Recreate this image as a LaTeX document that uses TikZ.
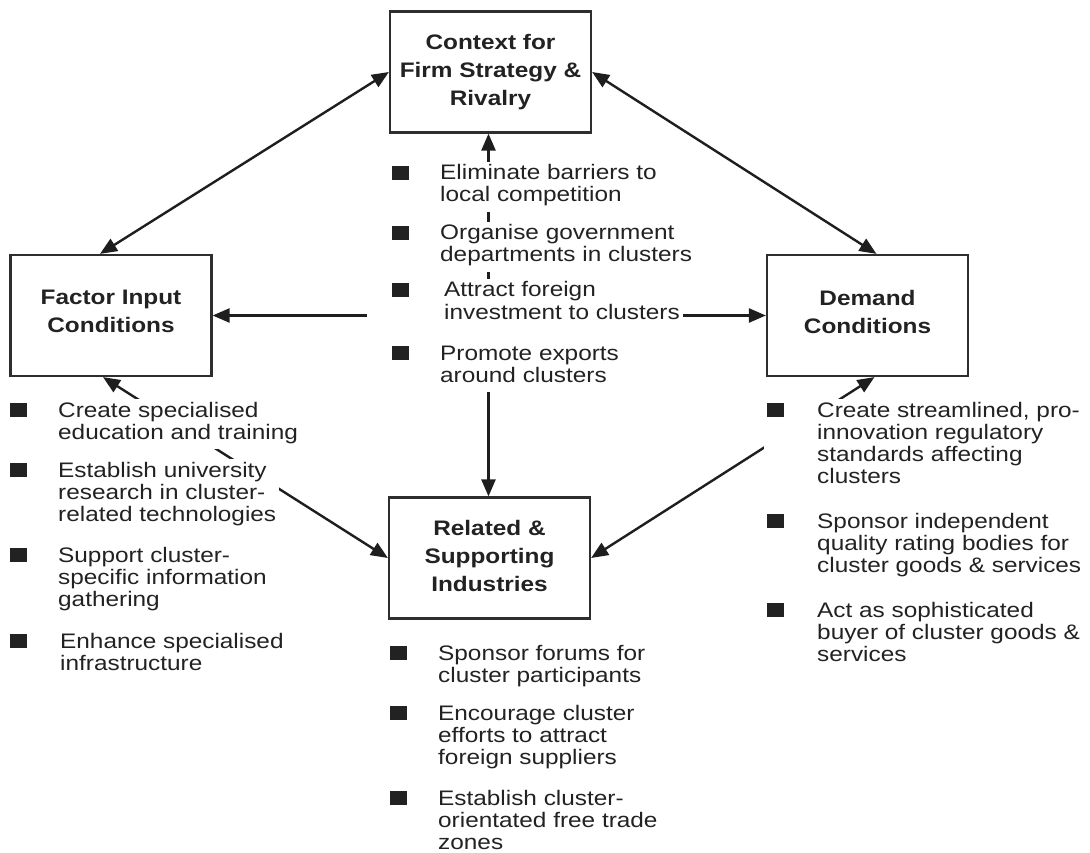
\documentclass[tikz,border=0pt]{standalone}
\usepackage{fontspec}
\setmainfont{Liberation Sans}[FakeStretch=1.16]
\usetikzlibrary{arrows.meta,backgrounds}
\definecolor{ink}{HTML}{222222}
\definecolor{rulec}{HTML}{2E2E2E}
\definecolor{linkc}{HTML}{1E1E1E}
% square bullet followed by a left-aligned block of lines
\newcommand\bulletsq{\textcolor{ink}{\rule{17pt}{14pt}}}
\newcommand\bitem[2][48pt]{\makebox[#1][l]{\bulletsq}\begin{tabular}[t]{@{}l@{}}#2\end{tabular}}
% centred box title, optionally lifted without changing its box
\newcommand\boxlabel[2][0pt]{\raisebox{#1}[\height][\depth]{\begin{tabular}{@{}c@{}}#2\end{tabular}}}
\tikzset{
  box/.style={draw=rulec, line width=2.2pt, minimum width=201pt, minimum height=121pt,
    inner sep=0pt, font=\fontsize{21}{28}\selectfont\bfseries, text=ink},
  item/.style={fill=white, anchor=base west, inner xsep=3pt, inner ysep=3pt,
    font=\fontsize{21}{22}\selectfont, text=ink},
  link/.style={draw=linkc, line width=2.4pt,
    {Triangle[length=17pt,width=14pt]}-{Triangle[length=17pt,width=14pt]}},
}
\begin{document}
\begin{tikzpicture}[x=1pt,y=-1pt]
\useasboundingbox (0,0) rectangle (1090,853);

% the four corners of the diamond
\node[box] (ctx) at (490.5,72) {\boxlabel{Context for\\Firm Strategy \&\\Rivalry}};
\node[box] (fac) at (111,315.5) {\boxlabel[3pt]{Factor Input\\Conditions}};
\node[box] (dem) at (867.5,315.5) {\boxlabel[2pt]{Demand\\Conditions}};
\node[box] (rel) at (489.5,558) {\boxlabel{Related \&\\Supporting\\Industries}};

% centre policies
\node[item] (c1) at (389,180) {\bitem{Eliminate barriers to\\local competition}};
\node[item] (c2) at (389,240) {\bitem{Organise government\\departments in clusters}};
\node[item] (c3) at (367,297) {\hspace*{22pt}\bitem[52pt]{Attract foreign\\investment to clusters\rule[-20pt]{0pt}{20pt}}};
\node[item] (c4) at (389,360) {\bitem{Promote exports\\around clusters}};

% factor input policies
\node[item] (l1) at (7,417) {\bitem{Create specialised\\education and training}};
\node[item] (l2) at (7,477) {\bitem{Establish university\\research in cluster-\\related technologies}};
\node[item] (l3) at (7,562) {\bitem{Support cluster-\\specific information\\gathering}};
\node[item] (l4) at (7,648) {\bitem[50pt]{Enhance specialised\\infrastructure}};

% demand policies
\node[item] (r1) at (764,417) {\bitem[50pt]{Create streamlined, pro-\\innovation regulatory\\standards affecting\\clusters}};
\node[item] (r2) at (764,528) {\bitem[50pt]{Sponsor independent\\quality rating bodies for\\cluster goods \& services}};
\node[item] (r3) at (764,617) {\bitem[50pt]{Act as sophisticated\\buyer of cluster goods \&\\services}};

% related industry policies
\node[item] (b1) at (387,660) {\bitem{Sponsor forums for\\cluster participants}};
\node[item] (b2) at (387,720) {\bitem{Encourage cluster\\efforts to attract\\foreign suppliers}};
\node[item] (b3) at (387,805) {\bitem{Establish cluster-\\orientated free trade\\zones}};

% links run behind the text blocks
\begin{scope}[on background layer]
  \draw[link] (ctx.west) -- ([xshift=-11pt]fac.north);
  \draw[link] (ctx.east) -- ([xshift=9pt]dem.north);
  \draw[link] ([xshift=-2pt]ctx.south) -- ([xshift=-1pt]rel.north);
  \draw[link] (fac.east) -- (dem.west);
  \draw[link] ([xshift=-8pt]fac.south) -- (rel.west);
  \draw[link] ([xshift=7pt]dem.south) -- (rel.east);
\end{scope}
\end{tikzpicture}
\end{document}
